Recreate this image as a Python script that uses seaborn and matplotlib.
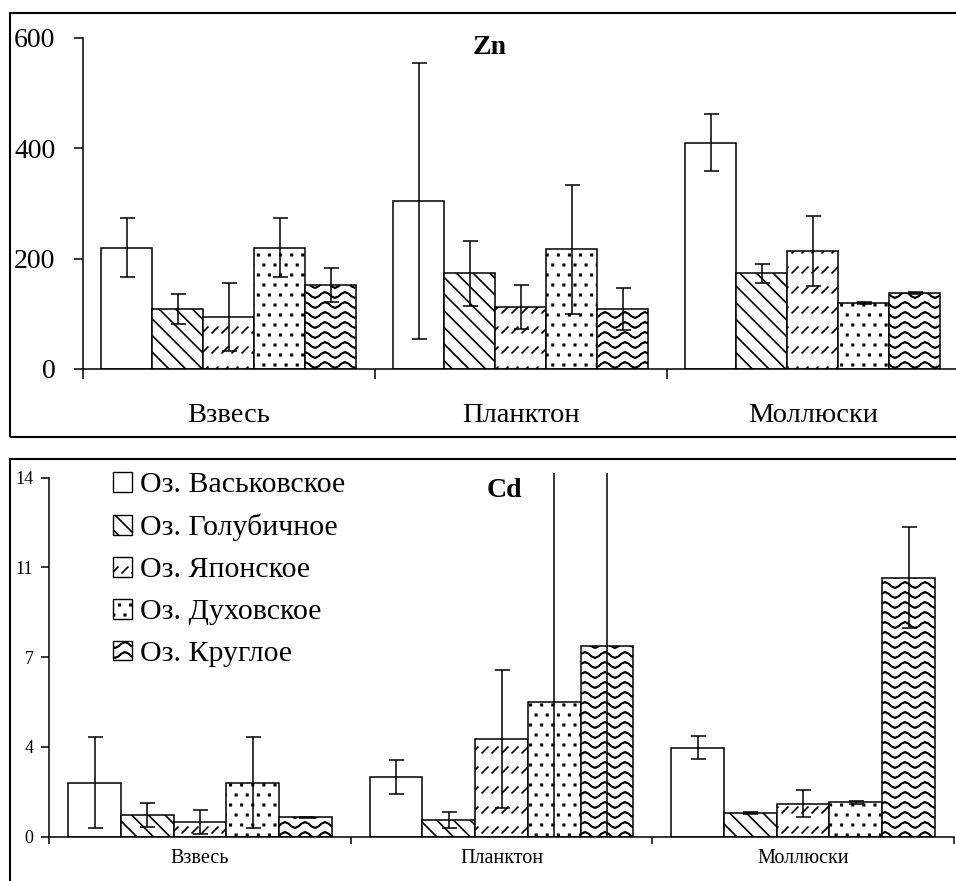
import numpy as np
import pandas as pd
import matplotlib
matplotlib.use("Agg")
import matplotlib.pyplot as plt
import matplotlib.hatch as mhatch
from matplotlib.path import Path
from matplotlib.patches import Patch, Rectangle
import seaborn as sns

# ---------------- data ----------------
categories = ["Взвесь", "Планктон", "Моллюски"]
lakes = ["Оз. Васьковское", "Оз. Голубичное", "Оз. Японское", "Оз. Духовское", "Оз. Круглое"]

# Zn: rows = categories, columns = lakes
zn_means = [[220, 109, 94, 220, 152],
            [304, 173, 112, 217, 109],
            [410, 173, 214, 120, 137]]
zn_errs = [[54, 27, 61, 54, 31],
           [250, 58, 40, 117, 38],
           [51, 17, 63, 2, 2]]
zn_ticks = [0, 200, 400, 600]
zn_tick_labels = ["0", "200", "400", "600"]

# Cd
cd_means = [[2.10, 0.85, 0.59, 2.10, 0.76],
            [2.34, 0.65, 3.80, 5.24, 7.45],
            [3.47, 0.91, 1.28, 1.34, 10.10]]
cd_errs = [[1.77, 0.47, 0.47, 1.77, 0.02],
           [0.66, 0.33, 2.70, 9.50, 9.50],
           [0.44, 0.04, 0.53, 0.05, 1.96]]
cd_ticks = [0, 3.5, 7, 10.5, 14]
cd_tick_labels = ["0", "4", "7", "11", "14"]

# hatch codes: white, back-diagonal, dashed diagonal, dots, waves
hatches = ["", "\\\\", "O", "o", "*"]


# ---------------- custom hatch patterns ----------------
class WaveHatch(mhatch.HatchPatternBase):
    def __init__(self, hatch, density):
        n = hatch.count("*")
        self.num_lines = 10 * n
        self.periods = 5
        self.pts = self.periods * 12 + 1
        self.m = 2 * self.pts - 1
        self.num_vertices = self.num_lines * self.m

    def set_vertices_and_codes(self, vertices, codes):
        xs = np.linspace(0, 1, self.pts)
        ys0 = 0.027 * np.sin(2 * np.pi * self.periods * xs)
        xf = np.concatenate([xs, xs[-2::-1]])
        yf = np.concatenate([ys0, ys0[-2::-1]])
        m = self.m
        for i in range(self.num_lines):
            y = (i + 0.5) / self.num_lines
            vertices[i * m:(i + 1) * m, 0] = xf
            vertices[i * m:(i + 1) * m, 1] = yf + y
            codes[i * m] = Path.MOVETO
            codes[i * m + 1:(i + 1) * m] = Path.LINETO


class DashHatch(mhatch.HatchPatternBase):
    def __init__(self, hatch, density):
        n = hatch.count("O")
        self.rows = 5 * n
        self.cols = 10 * n
        self.num_vertices = self.rows * self.cols * 2

    def set_vertices_and_codes(self, vertices, codes):
        d = 0.058
        k = 0
        for r in range(self.rows):
            y = (r + 0.5) / self.rows
            for c in range(self.cols):
                x = (c + 0.5) / self.cols
                vertices[k] = (x - d / 2, y - d / 2)
                vertices[k + 1] = (x + d / 2, y + d / 2)
                codes[k] = Path.MOVETO
                codes[k + 1] = Path.LINETO
                k += 2


class DotHatch(mhatch.HatchPatternBase):
    def __init__(self, hatch, density):
        n = hatch.count("o")
        self.rows = 10 * n
        self.cols = 9 * n
        self.num_vertices = self.rows * self.cols * 5

    def set_vertices_and_codes(self, vertices, codes):
        s = 0.007
        k = 0
        for r in range(self.rows):
            y = (r + 0.5) / self.rows
            for c in range(self.cols):
                x = (c + 0.25 + 0.5 * (r % 2)) / self.cols
                vertices[k:k + 5] = [(x - s, y - s), (x + s, y - s), (x + s, y + s),
                                     (x - s, y + s), (x - s, y - s)]
                codes[k] = Path.MOVETO
                codes[k + 1:k + 4] = Path.LINETO
                codes[k + 4] = Path.CLOSEPOLY
                k += 5


mhatch._hatch_types[:] = [mhatch.HorizontalHatch, mhatch.VerticalHatch,
                          mhatch.NorthEastHatch, mhatch.SouthEastHatch,
                          DotHatch, DashHatch, mhatch.SmallFilledCircles, WaveHatch]

# ---------------- style ----------------
sns.set_theme(style="ticks")
plt.rcParams["font.family"] = ["Liberation Serif", "DejaVu Serif"]
plt.rcParams["hatch.linewidth"] = 1.2
plt.rcParams["hatch.color"] = "black"
plt.rcParams["axes.edgecolor"] = "black"
plt.rcParams["xtick.color"] = "black"
plt.rcParams["ytick.color"] = "black"
plt.rcParams["text.color"] = "black"

W, H = 956, 881
fig = plt.figure(figsize=(W / 100, H / 100), dpi=100)
ax1 = fig.add_axes([82.7 / W, 1 - 369 / H, 876 / W, 331.3 / H])
ax2 = fig.add_axes([49.3 / W, 1 - 836.7 / H, 904.5 / W, 363.4 / H])

BW = 0.875


def draw(ax, means, errs):
    df = pd.DataFrame({
        "cat": np.repeat(categories, len(lakes)),
        "lake": lakes * len(categories),
        "val": np.concatenate(means),
    })
    sns.barplot(data=df, x="cat", y="val", hue="lake", order=categories,
                hue_order=lakes, palette=["white"] * len(lakes), saturation=1,
                width=BW, gap=0, errorbar=None, edgecolor="black",
                linewidth=1.1, legend=False, ax=ax)
    xs, ys, es = [], [], []
    step = BW / len(lakes)
    for p in ax.patches:
        xc = p.get_x() + p.get_width() / 2
        ci = int(round(xc))
        hi = int(round((p.get_x() - ci + BW / 2) / step))
        p.set_hatch(hatches[hi])
        xs.append(xc)
        ys.append(p.get_height())
        es.append(errs[ci][hi])
    ax.errorbar(xs, ys, yerr=es, fmt="none", ecolor="black", elinewidth=1.1,
                capsize=5.4, capthick=1.1, zorder=5)
    ax.set_xlim(-0.5, 2.5)
    ax.set_xticks(range(len(categories)))
    ax.set_xticklabels(categories)
    ax.set_xticks([-0.5, 0.5, 1.5, 2.5], minor=True)
    ax.set_xlabel("")
    ax.set_ylabel("")
    sns.despine(ax=ax)
    for s in ("left", "bottom"):
        ax.spines[s].set_linewidth(1.1)


draw(ax1, zn_means, zn_errs)
ax1.set_ylim(0, 600)
ax1.set_yticks(zn_ticks)
ax1.set_yticklabels(zn_tick_labels)
ax1.tick_params(axis="y", length=6.5, width=1.1, pad=13, labelsize=20, direction="out")
ax1.tick_params(axis="x", which="major", length=0, pad=24.5, labelsize=20.5)
ax1.tick_params(axis="x", which="minor", length=7.2, width=1.1, direction="out")

draw(ax2, cd_means, cd_errs)
ax2.set_ylim(0, 14.17)
ax2.spines["left"].set_bounds(0, 14)
ax2.set_yticks(cd_ticks)
ax2.set_yticklabels(cd_tick_labels)
ax2.tick_params(axis="y", length=5.5, width=1.1, pad=6, labelsize=13, direction="out")
ax2.tick_params(axis="x", which="major", length=0, pad=9, labelsize=14.5)
ax2.tick_params(axis="x", which="minor", length=5, width=1.1, direction="out")

# panel frames
fig.add_artist(Rectangle((10 / W, 1 - 436.7 / H), 1.02, 424 / H,
                         transform=fig.transFigure, fill=False, lw=1.5, ec="black"))
fig.add_artist(Rectangle((10 / W, -0.05), 1.02, 0.05 + 1 - 459 / H,
                         transform=fig.transFigure, fill=False, lw=1.5, ec="black"))

fig.text(473 / W, 1 - 48 / H, "Zn", fontsize=20, fontweight="bold", ha="left", va="center")
fig.text(487 / W, 1 - 491 / H, "Cd", fontsize=20, fontweight="bold", ha="left", va="center")

handles = [Patch(facecolor="white", edgecolor="black", hatch=h, linewidth=1.0) for h in hatches]
ax2.legend(handles, lakes, loc="upper left", bbox_to_anchor=(113 / W, 1 - 472 / H),
           bbox_transform=fig.transFigure, frameon=False, fontsize=21.5,
           handlelength=0.64, handleheight=0.64, handletextpad=0.28,
           labelspacing=0.52, borderpad=0, borderaxespad=0)

fig.savefig("out.png", dpi=100)
